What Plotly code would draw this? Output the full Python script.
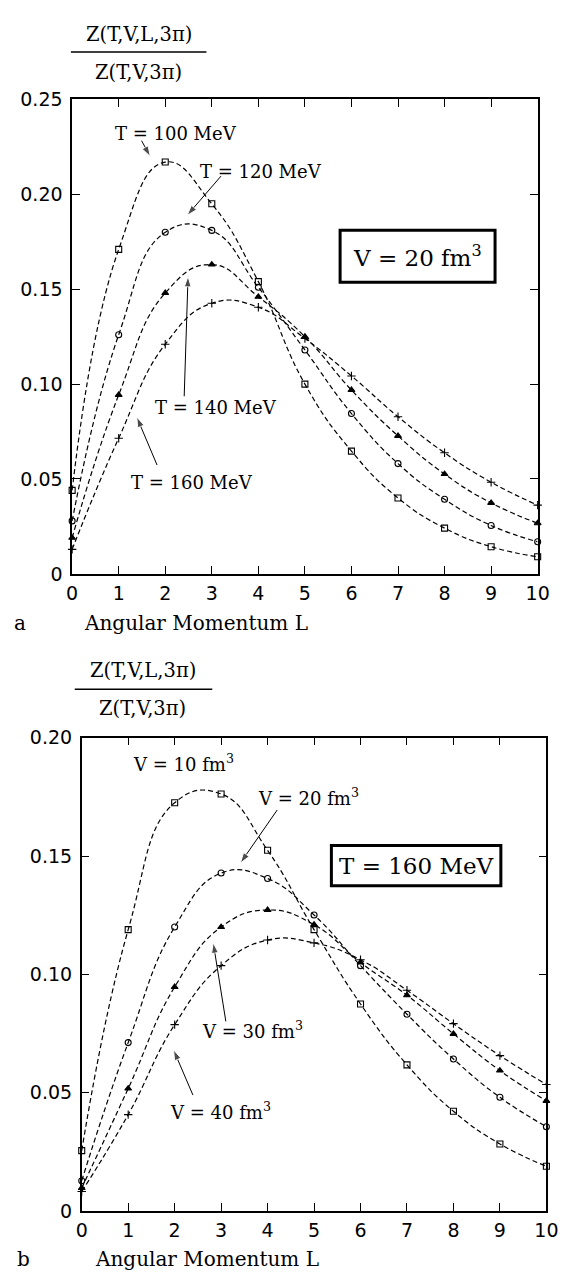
import plotly.graph_objects as go

# Angular momentum values L (shared by both panels)
L_values = [0, 1, 2, 3, 4, 5, 6, 7, 8, 9, 10]

# Panel a: V = 20 fm^3, different temperatures
z_T100 = [0.044, 0.171, 0.217, 0.195, 0.154, 0.100, 0.0647, 0.040, 0.0241, 0.0143, 0.0090]
z_T120 = [0.0279, 0.126, 0.180, 0.181, 0.151, 0.118, 0.0845, 0.0581, 0.0393, 0.0255, 0.0169]
z_T140 = [0.019, 0.0943, 0.148, 0.163, 0.146, 0.125, 0.0969, 0.0727, 0.0526, 0.0374, 0.0267]
z_T160 = [0.0129, 0.0715, 0.121, 0.1426, 0.1405, 0.124, 0.1043, 0.0828, 0.0638, 0.0483, 0.0362]

# Panel b: T = 160 MeV, different volumes
z_V10 = [0.0256, 0.1189, 0.1725, 0.1762, 0.1524, 0.1189, 0.0875, 0.0618, 0.0422, 0.0284, 0.0190]
z_V20 = [0.0129, 0.0712, 0.120, 0.1428, 0.1405, 0.1251, 0.1037, 0.0832, 0.0643, 0.0481, 0.0357]
z_V30 = [0.0098, 0.0518, 0.0947, 0.120, 0.1272, 0.121, 0.105, 0.0912, 0.0749, 0.0594, 0.0466]
z_V40 = [0.0083, 0.0408, 0.0788, 0.1037, 0.1145, 0.1133, 0.1062, 0.0933, 0.0792, 0.0657, 0.0535]

x_ticks = list(range(0, 11))
y_ticks_a = [0, 0.05, 0.10, 0.15, 0.20, 0.25]
y_text_a = ["0", "0.05", "0.10", "0.15", "0.20", "0.25"]
y_ticks_b = [0, 0.05, 0.10, 0.15, 0.20]
y_text_b = ["0", "0.05", "0.10", "0.15", "0.20"]

W, H = 570, 1281
SERIF = "DejaVu Serif"
SANS = "DejaVu Sans"


def px(x):
    return x / W


def py(y):
    return 1 - y / H


fig = go.Figure()

symbols = ["square-open", "circle-open", "triangle-up", "cross-thin"]


def add_series(ys, sym, xa, ya):
    fig.add_trace(go.Scatter(
        x=L_values, y=ys, xaxis=xa, yaxis=ya,
        mode="lines+markers",
        line=dict(color="black", width=1.2, dash="5px,3px", shape="spline", smoothing=1.3),
        marker=dict(symbol=sym, size=6, color="black",
                    line=dict(color="black", width=1.1)),
        cliponaxis=False, showlegend=False, hoverinfo="x+y",
    ))


for ys, s in zip([z_T100, z_T120, z_T140, z_T160], symbols):
    add_series(ys, s, "x", "y")
for ys, s in zip([z_V10, z_V20, z_V30, z_V40], symbols):
    add_series(ys, s, "x2", "y2")

axis_common = dict(
    showline=True, linecolor="black", linewidth=1.5, mirror="ticks",
    ticks="inside", ticklen=8, tickwidth=1.3, tickcolor="black",
    showgrid=False, zeroline=False,
    tickfont=dict(family=SANS, size=19, color="black"),
)

fig.update_layout(
    width=W, height=H,
    margin=dict(l=0, r=0, t=0, b=0),
    paper_bgcolor="white", plot_bgcolor="rgba(0,0,0,0)",
    xaxis=dict(domain=[px(68.3), px(549)], range=[0, 10], tickvals=x_ticks,
               anchor="y", ticklabelstandoff=2, **axis_common),
    yaxis=dict(domain=[py(572.7), py(90)], range=[0, 0.25], tickvals=y_ticks_a,
               ticktext=y_text_a, anchor="x", ticklabelstandoff=4, **axis_common),
    xaxis2=dict(domain=[px(78.2), px(558)], range=[0, 10], tickvals=x_ticks,
                anchor="y2", ticklabelstandoff=1, **axis_common),
    yaxis2=dict(domain=[py(1221.2), py(739.3)], range=[0, 0.20], tickvals=y_ticks_b,
                ticktext=y_text_b, anchor="x2", ticklabelstandoff=4, **axis_common),
    # full-page overlay in pixel units used for the label arrows
    xaxis3=dict(domain=[0, 1], range=[0, W], visible=False, anchor="y3", fixedrange=True),
    yaxis3=dict(domain=[0, 1], range=[H, 0], visible=False, anchor="x3", fixedrange=True),
)

annotations = []
shapes = []


def text_at(x, y, s, size=18, family=SERIF):
    annotations.append(dict(
        xref="paper", yref="paper", x=px(x), y=py(y), text=s, showarrow=False,
        xanchor="center", yanchor="middle",
        font=dict(family=family, size=size, color="black"),
    ))


def arrow(tail, head):
    fig.add_trace(go.Scatter(
        x=[tail[0], head[0]], y=[tail[1], head[1]], xaxis="x3", yaxis="y3",
        mode="lines+markers",
        line=dict(color="black", width=1),
        marker=dict(symbol="arrow", size=[0, 11], angleref="previous", color="black"),
        cliponaxis=False, showlegend=False, hoverinfo="skip",
    ))


# y-axis fraction labels
for (num_y, line_y, den_y, cx, x0, x1) in [(24, 41.7, 63, 137.5, 67, 207),
                                           (671, 690, 710, 141.5, 71, 213)]:
    text_at(cx, num_y, "Z(T,V,L,3\u03c0)", size=19.5)
    text_at(cx - 1, den_y, "Z(T,V,3\u03c0)", size=19.5)
    shapes.append(dict(type="line", xref="paper", yref="paper",
                       x0=px(x0), x1=px(x1), y0=py(line_y), y1=py(line_y),
                       line=dict(color="black", width=1.5)))

# x-axis titles and panel letters
text_at(196, 623, "Angular Momentum L", size=20)
text_at(14, 623, "a", size=20)
text_at(208, 1270, "Angular Momentum L", size=20)
text_at(18, 1270, "b", size=20)

# Panel a curve labels
text_at(176, 125, "T = 100 MeV")
text_at(263, 163, "T = 120 MeV")
text_at(217, 403, "T = 140 MeV")
text_at(192, 480, "T = 160 MeV")
arrow((140, 132), (149, 148))
arrow((222, 168), (187, 208))
arrow((184, 392), (188, 270))
arrow((156, 462), (135, 413))

# Panel b curve labels
text_at(183, 765, "V = 10 fm<sup>3</sup>")
text_at(312, 800, "V = 20 fm<sup>3</sup>")
text_at(255, 1037, "V = 30 fm<sup>3</sup>")
text_at(222, 1119, "V = 40 fm<sup>3</sup>")
arrow((280, 813), (242, 867))
arrow((227, 1028), (214, 948))
arrow((193, 1103), (173, 1057))

# Boxed parameter labels
for (x0, y0, x1, y1, s) in [(345, 223, 505, 276, "V = 20 fm<sup>3</sup>"),
                            (336, 849, 511, 890, "T = 160 MeV")]:
    shapes.append(dict(type="rect", xref="paper", yref="paper",
                       x0=px(x0), x1=px(x1), y0=py(y1), y1=py(y0),
                       line=dict(color="black", width=3), fillcolor="white",
                       layer="above"))
    text_at((x0 + x1) / 2, (y0 + y1) / 2, s, size=23)

fig.update_layout(annotations=annotations, shapes=shapes)

fig.write_html("out.html")
